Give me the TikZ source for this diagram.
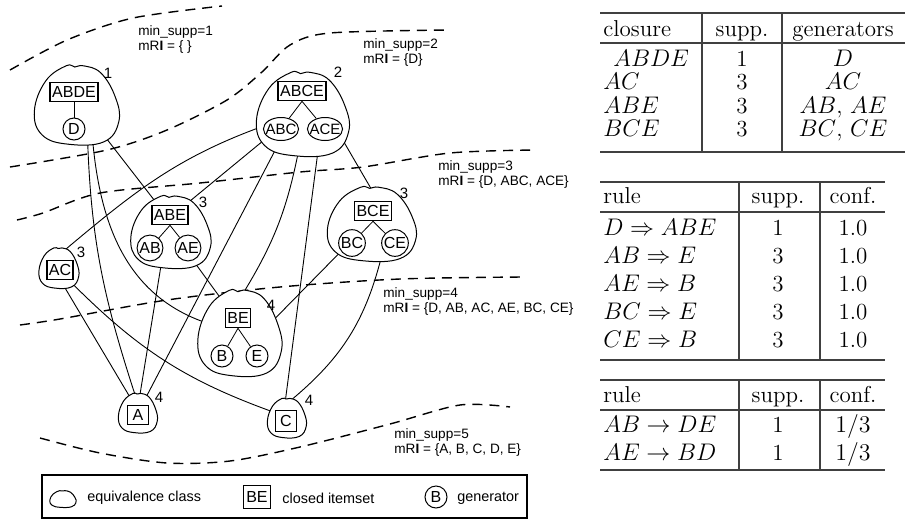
\documentclass[tikz,border=0pt]{standalone}
\usepackage{fontspec}
\usepackage{amsmath}
\newfontfamily\helv{Liberation Sans}
\usetikzlibrary{arrows.meta, shapes.geometric, backgrounds}

% equivalence class: outline and a named ellipse inside it for the links
\newcommand{\eqclass}[5]{%
  \draw[classline, shift={(#2,#3)}, xscale=#4/2, yscale=#5/2]
    plot[smooth cycle, tension=0.7] coordinates {(-0.25,-0.98) (-0.05,-0.95) (0.15,-0.98) (0.55,-0.8) (0.88,-0.2) (0.96,0.42) (0.62,0.92) (-0.2,0.98) (-0.8,0.75) (-0.98,0.15) (-0.72,-0.6)};
  \node[classnode, minimum width={0.45pt*#4}, minimum height={0.45pt*#5}] (#1) at (#2,#3) {};
}

\begin{document}
\begin{tikzpicture}[x=0.5pt, y=-0.5pt,
    classline/.style={line width=0.5pt, fill=white},
    classnode/.style={ellipse, draw=none, inner sep=0pt, outer sep=0pt},
    closedset/.style={draw, line width=0.8pt, font=\helv\fontsize{8}{9}\selectfont,
      inner xsep=1pt, inner ysep=0pt, text height=5.8pt, text depth=0pt,
      minimum height=9.5pt, minimum width=10.5pt},
    gen/.style={circle, draw, line width=0.5pt, font=\helv\fontsize{8}{9}\selectfont,
      inner sep=0.3pt, text height=5.8pt, text depth=0pt, minimum size=11pt},
    widegen/.style={ellipse, draw, line width=0.5pt, font=\helv\fontsize{7.5}{8}\selectfont,
      inner xsep=-1.5pt, inner ysep=0pt, text height=5.4pt, text depth=0pt, minimum height=11.5pt},
    link/.style={line width=0.45pt},
    border/.style={line width=0.7pt, dash pattern=on 5pt off 3.5pt},
    supptext/.style={anchor=north west, align=left, inner sep=0pt,
      font=\helv\fontsize{6.8}{7.5}\selectfont},
    count/.style={inner sep=0pt, font=\helv\fontsize{7.5}{8}\selectfont},
    legendtext/.style={anchor=west, inner sep=0pt, font=\helv\fontsize{7.2}{8}\selectfont},
    rule/.style={line width=0.6pt, black!75},
    cell/.style={inner sep=0pt, text height=7.5pt, text depth=0pt,
      font=\fontsize{11.5}{13}\selectfont}]
  \useasboundingbox (0,0) rectangle (907,521);

  % Support borders
  \draw[border] plot[smooth] coordinates {(10,70) (67,40) (133,18) (222,6)};
  \draw[border] plot[smooth] coordinates {(10,167) (107,150) (167,130) (227,100) (262,72) (290,45) (330,33) (450,30)};
  \draw[border] plot[smooth] coordinates {(17,220) (43,213) (100,193) (200,183) (300,172) (363,167) (450,153) (535,150)};
  \draw[border] plot[smooth] coordinates {(20,325) (60,319) (167,300) (280,287) (400,279) (523,277)};
  \draw[border] plot[smooth] coordinates {(40,438) (100,453) (167,463) (230,461) (300,447) (390,424) (460,405) (510,407)};

  \node[supptext] (supp1) at (138,25) {min\_supp=1\\mR\textbf{I} = \{ \}};
  \node[supptext] (supp2) at (363,38) {min\_supp=2\\mR\textbf{I} = \{D\}};
  \node[supptext] (supp3) at (438,160) {min\_supp=3\\mR\textbf{I} = \{D, ABC, ACE\}};
  \node[supptext] (supp4) at (383,287) {min\_supp=4\\mR\textbf{I} = \{D, AB, AC, AE, BC, CE\}};
  \node[supptext] (supp5) at (394,428) {min\_supp=5\\mR\textbf{I} = \{A, B, C, D, E\}};

  % Equivalence classes
  \eqclass{abde}{77}{105}{87}{80}
  \eqclass{abce}{303}{114}{95}{85}
  \eqclass{abe}{171}{232}{82}{73}
  \eqclass{bce}{372}{224}{91}{75}
  \eqclass{ac}{59}{268}{41}{41}
  \eqclass{be}{240}{333}{86}{87}
  \eqclass{a}{138}{413}{40}{40}
  \eqclass{c}{287}{418}{40}{40}

  % Links between classes
  \begin{pgfonlayer}{background}
    \draw[link] (abde.-48) -- (abe.117);
    \draw[link] (abde.-73) to[out=-88, in=108] (a.99);
    \draw[link] (abde.-65) to[out=-85, in=160] (be.163);
    \draw[link] (abce.-163) to[out=200, in=40] (ac.73);
    \draw[link] (abce.-147) -- (abe.60);
    \draw[link] (abce.-129) -- (a.63);
    \draw[link] (abce.-97) to[bend left=10] (be.86);
    \draw[link] (abce.-67) -- (c.95);
    \draw[link] (abce.-29) -- (bce.90);
    \draw[link] (abe.-52) -- (be.119);
    \draw[link] (abe.-107) -- (a.84);
    \draw[link] (bce.-139) -- (be.23);
    \draw[link] (bce.-74) to[bend left=18] (c.78);
    \draw[link] (ac.-75) -- (a.117);
    \draw[link] (ac.-50) to[out=-45, in=160] (c.157);
  \end{pgfonlayer}

  % Closed itemsets and their generators
  \node[closedset] (abde-cl) at (74,92) {ABDE};
  \node[gen] (abde-d) at (74,129) {D};
  \draw (abde-cl) -- (abde-d);

  \node[closedset] (abce-cl) at (302,91) {ABCE};
  \node[widegen] (abce-abc) at (281,129) {ABC};
  \node[widegen] (abce-ace) at (325,129) {ACE};
  \draw (abce-cl.south) -- (abce-abc);
  \draw (abce-cl.south) -- (abce-ace);

  \node[closedset] (abe-cl) at (170,215) {ABE};
  \node[gen] (abe-ab) at (150,248) {AB};
  \node[gen] (abe-ae) at (188,248) {AE};
  \draw (abe-cl.south) -- (abe-ab);
  \draw (abe-cl.south) -- (abe-ae);

  \node[closedset] (bce-cl) at (373,211) {BCE};
  \node[gen] (bce-bc) at (352,243) {BC};
  \node[gen] (bce-ce) at (395,243) {CE};
  \draw (bce-cl.south) -- (bce-bc);
  \draw (bce-cl.south) -- (bce-ce);

  \node[closedset] (be-cl) at (238,318) {BE};
  \node[gen] (be-b) at (222,356) {B};
  \node[gen] (be-e) at (257,356) {E};
  \draw (be-cl.south) -- (be-b);
  \draw (be-cl.south) -- (be-e);

  \node[closedset] (ac-cl) at (60,270) {AC};
  \node[closedset] (a-cl) at (138,415) {A};
  \node[closedset, minimum height=10.5pt] (c-cl) at (286,421) {C};

  % Supports
  \node[count] (abde-n) at (108,73) {1};
  \node[count] (abce-n) at (338,72) {2};
  \node[count] (abe-n) at (203,202) {3};
  \node[count] (bce-n) at (404,193) {3};
  \node[count] (ac-n) at (81,252) {3};
  \node[count] (be-n) at (271,305) {4};
  \node[count] (a-n) at (159,397) {4};
  \node[count] (c-n) at (309,400) {4};

  % Legend
  \draw[line width=0.8pt] (42,475) rectangle (527,518);
  \eqclass{legclass}{63}{499}{27}{17}
  \node[legendtext] (legclass-t) at (87,498) {equivalence class};
  \node[closedset, minimum height=11.5pt, minimum width=13.5pt] (legset) at (257,497) {BE};
  \node[legendtext] (legset-t) at (282,498) {closed itemset};
  \node[gen] (leggen) at (436,497) {B};
  \node[legendtext] (leggen-t) at (457,498) {generator};

  % Table of closures
  \draw[rule] (600,13) -- (905,13);
  \draw[rule] (600,43) -- (905,43);
  \draw[rule] (600,152) -- (905,152);
  \draw[rule] (702,13) -- (702,152);
  \draw[rule] (782,13) -- (782,152);
  \node[cell, anchor=west] (clo-h1) at (603,29) {closure};
  \node[cell] (clo-h2) at (742,29) {supp.};
  \node[cell] (clo-h3) at (843,29) {generators};
  \foreach \xa/\cl/\sp/\ge [count=\i] in {613/ABDE/1/{$D$}, 603/AC/3/{$AC$}, 603/ABE/3/{$AB$, $AE$}, 603/BCE/3/{$BC$, $CE$}} {
    \node[cell, anchor=west] (clo-\i-1) at (\xa, 35+23.5*\i) {$\cl$};
    \node[cell] (clo-\i-2) at (742, 35+23.5*\i) {\sp};
    \node[cell] (clo-\i-3) at (843, 35+23.5*\i) {\ge};
  }

  % Table of exact rules
  \draw[rule] (600,182) -- (885,182);
  \draw[rule] (600,212) -- (885,212);
  \draw[rule] (600,360) -- (885,360);
  \draw[rule] (739,182) -- (739,360);
  \draw[rule] (820,182) -- (820,360);
  \node[cell, anchor=west] (ex-h1) at (603,196) {rule};
  \node[cell] (ex-h2) at (778,196) {supp.};
  \node[cell] (ex-h3) at (853,196) {conf.};
  \foreach \ru/\sp [count=\i] in {D\Rightarrow ABE/1, AB\Rightarrow E/3, AE\Rightarrow B/3, BC\Rightarrow E/3, CE\Rightarrow B/3} {
    \node[cell, anchor=west] (ex-\i-1) at (603, 200+28*\i) {$\ru$};
    \node[cell] (ex-\i-2) at (778, 200+28*\i) {\sp};
    \node[cell] (ex-\i-3) at (853, 200+28*\i) {1.0};
  }

  % Table of approximate rules
  \draw[rule] (600,380) -- (885,380);
  \draw[rule] (600,410) -- (885,410);
  \draw[rule] (600,470) -- (885,470);
  \draw[rule] (739,380) -- (739,470);
  \draw[rule] (820,380) -- (820,470);
  \node[cell, anchor=west] (ap-h1) at (603,395) {rule};
  \node[cell] (ap-h2) at (778,395) {supp.};
  \node[cell] (ap-h3) at (853,395) {conf.};
  \foreach \ru [count=\i] in {AB\rightarrow DE, AE\rightarrow BD} {
    \node[cell, anchor=west] (ap-\i-1) at (603, 397+28*\i) {$\ru$};
    \node[cell] (ap-\i-2) at (778, 397+28*\i) {1};
    \node[cell] (ap-\i-3) at (853, 397+28*\i) {$1/3$};
  }
\end{tikzpicture}
\end{document}
